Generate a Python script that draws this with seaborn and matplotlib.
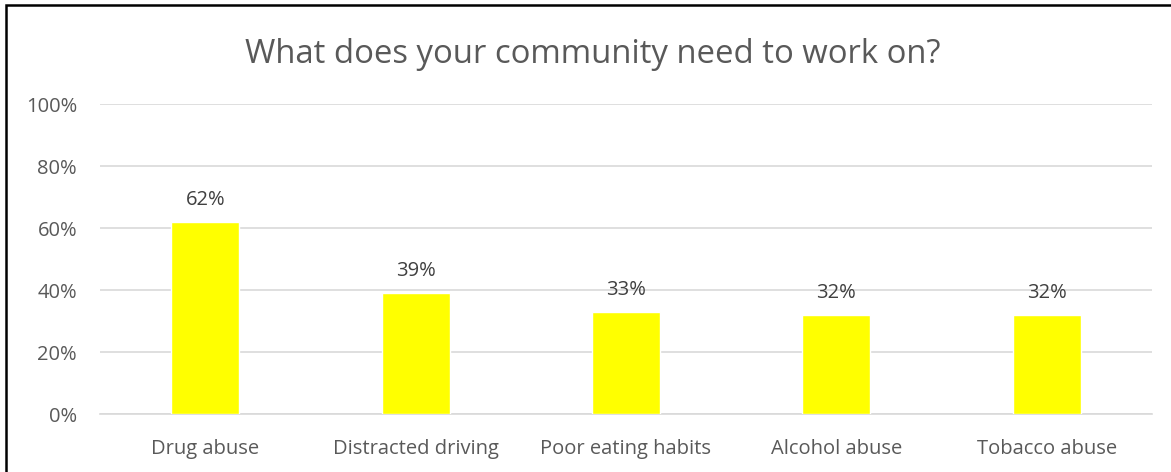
import matplotlib
matplotlib.use("Agg")
import matplotlib.pyplot as plt
import seaborn as sns
import pandas as pd
from matplotlib.patches import Rectangle

categories = ["Drug abuse", "Distracted driving", "Poor eating habits", "Alcohol abuse", "Tobacco abuse"]
values = [62, 39, 33, 32, 32]
y_ticks = [0, 20, 40, 60, 80, 100]
y_tick_labels = ["0%", "20%", "40%", "60%", "80%", "100%"]
title = "What does your community need to work on?"

sns.set_theme(style="white")
plt.rcParams["font.family"] = ["Open Sans", "DejaVu Sans"]

df = pd.DataFrame({"category": categories, "value": values})

fig = plt.figure(figsize=(11.71, 4.72), dpi=100)
ax = fig.add_axes([100/1171, 58/472, 1052/1171, 310/472])

sns.barplot(data=df, x="category", y="value", color="#FFFF00", width=0.323,
            saturation=1, ax=ax, zorder=3)

ax.set_ylim(0, 100)
ax.set_xlim(-0.5, len(categories) - 0.5)
ax.set_yticks(y_ticks)
ax.set_yticklabels(y_tick_labels)
ax.set_xlabel("")
ax.set_ylabel("")
ax.yaxis.grid(True, color="#D9D9D9", linewidth=1.2, zorder=0)
ax.set_axisbelow(True)
for s in ["top", "right", "left"]:
    ax.spines[s].set_visible(False)
ax.spines["bottom"].set_color("#D9D9D9")
ax.spines["bottom"].set_linewidth(1.2)
ax.tick_params(axis="both", length=0, labelsize=14.5, labelcolor="#595959")
ax.tick_params(axis="y", pad=16.5)
ax.tick_params(axis="x", pad=18)

for i, v in enumerate(values):
    ax.annotate(f"{v}%", xy=(i, v), xytext=(0, 12), textcoords="offset points",
                ha="center", va="baseline", fontsize=14.5, color="#404040")

fig.text(593/1171, (472-63)/472, title, ha="center", va="baseline",
         fontsize=23.7, color="#595959")

fig.patches.append(Rectangle((6/1171, -0.5), 2.0, (472-5)/472 + 0.5,
                             transform=fig.transFigure, fill=False,
                             edgecolor="black", linewidth=1.8, zorder=10))

fig.savefig("out.png", dpi=100)
